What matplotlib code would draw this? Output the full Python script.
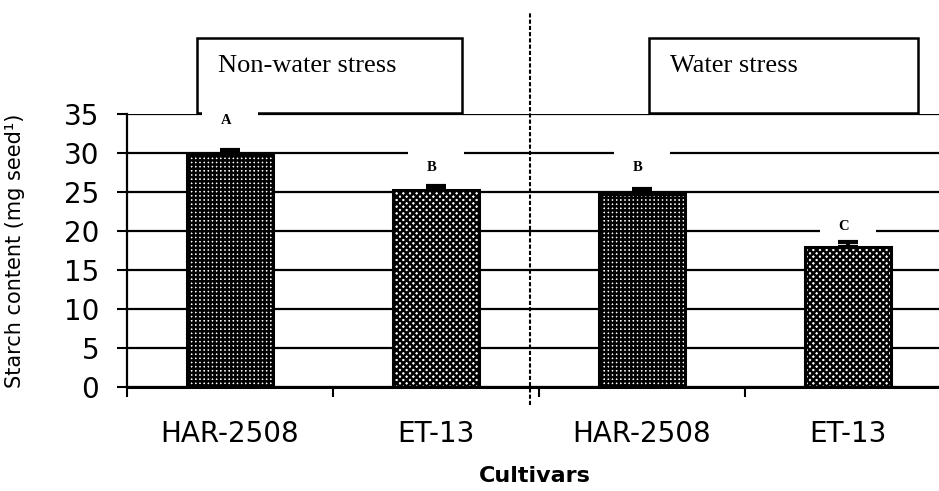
import matplotlib
matplotlib.use('Agg')
import matplotlib.pyplot as plt
from matplotlib.patches import Rectangle
import matplotlib.transforms as mtransforms

# ---- data ----
cultivars = ['HAR-2508', 'ET-13', 'HAR-2508', 'ET-13']
treatments = ['Non-water stress', 'Water stress']
starch = [29.8, 25.2, 24.8, 17.9]
errors = [0.6, 0.6, 0.6, 0.7]
letters = ['A', 'B', 'B', 'C']
yticks = [0, 5, 10, 15, 20, 25, 30, 35]

# ---- layout ----
letter_offset = [3.8, 2.4, 2.7, 2.0]
hatches = ['++++', 'xxxxx', '++++', 'xxxxx']

plt.rcParams['hatch.linewidth'] = 1.8
fig = plt.figure(figsize=(9.39, 4.91), dpi=100)
ax = fig.add_axes([127 / 939, 1 - 387 / 491, 824 / 939, 273 / 491])

x = list(range(len(cultivars)))
for i in x:
    ax.bar(i, starch[i], width=0.42, facecolor='white', edgecolor='black',
           hatch=hatches[i], linewidth=0, zorder=2)
ax.bar(x, starch, width=0.42, fill=False, edgecolor='black', linewidth=2.2, zorder=3)
ax.errorbar(x, starch, yerr=[[0] * len(x), errors], fmt='none', ecolor='black',
            elinewidth=3, capsize=7, capthick=3, zorder=4)

# significance letters with white backgrounds
for i in x:
    yt = starch[i] + errors[i] + letter_offset[i]
    ax.add_patch(Rectangle((i - 0.135, yt - 1.6), 0.27, 3.9, facecolor='white',
                           edgecolor='none', zorder=1.8, clip_on=False))
    ax.text(i - 0.02, yt, letters[i], ha='center', va='center', fontsize=10.5,
            fontweight='bold', family='Liberation Serif', zorder=5)

ax.set_xlim(-0.5, 3.5)
ax.set_ylim(0, 35)
ax.set_yticks(yticks)
ax.yaxis.grid(True, color='black', linewidth=1.6)
ax.set_axisbelow(True)

for s in ['top', 'right']:
    ax.spines[s].set_visible(False)
ax.spines['left'].set_linewidth(1.6)
ax.spines['bottom'].set_linewidth(2.2)

ax.tick_params(axis='y', direction='out', length=7, width=1.5, labelsize=20, pad=13)
ax.set_xticks(x)
ax.set_xticklabels(cultivars)
ax.tick_params(axis='x', which='major', length=0, labelsize=20, pad=24)
ax.set_xticks([-0.5, 0.5, 1.5, 2.5], minor=True)
ax.tick_params(axis='x', which='minor', direction='out', length=7, width=1.5)

ax.set_ylabel('Starch content (mg seed\u00b9)', fontsize=15)
ax.yaxis.set_label_coords(-0.124, 0.5)
ax.set_xlabel('Cultivars', fontsize=16, fontweight='bold')
ax.xaxis.set_label_coords(0.495, -0.29)

# divider between treatments
trans = mtransforms.blended_transform_factory(ax.transData, ax.transAxes)
ax.plot([1.455, 1.455], [-0.066, 1.37], transform=trans, color='black',
        linestyle=(0, (2, 1)), linewidth=1.5, clip_on=False, zorder=6)

# treatment boxes
box_x = [-0.16, 2.034]
box_w = [1.286, 1.306]
for bx, bw, t in zip(box_x, box_w, treatments):
    ax.add_patch(Rectangle((bx, 35.1), bw, 9.6, fill=False, edgecolor='black',
                           linewidth=1.8, clip_on=False, zorder=1.5))
    ax.text(bx + 0.104, 41.1, t, ha='left', va='center', fontsize=19,
            family='Liberation Serif', zorder=5)

fig.savefig('out.png', dpi=100)
